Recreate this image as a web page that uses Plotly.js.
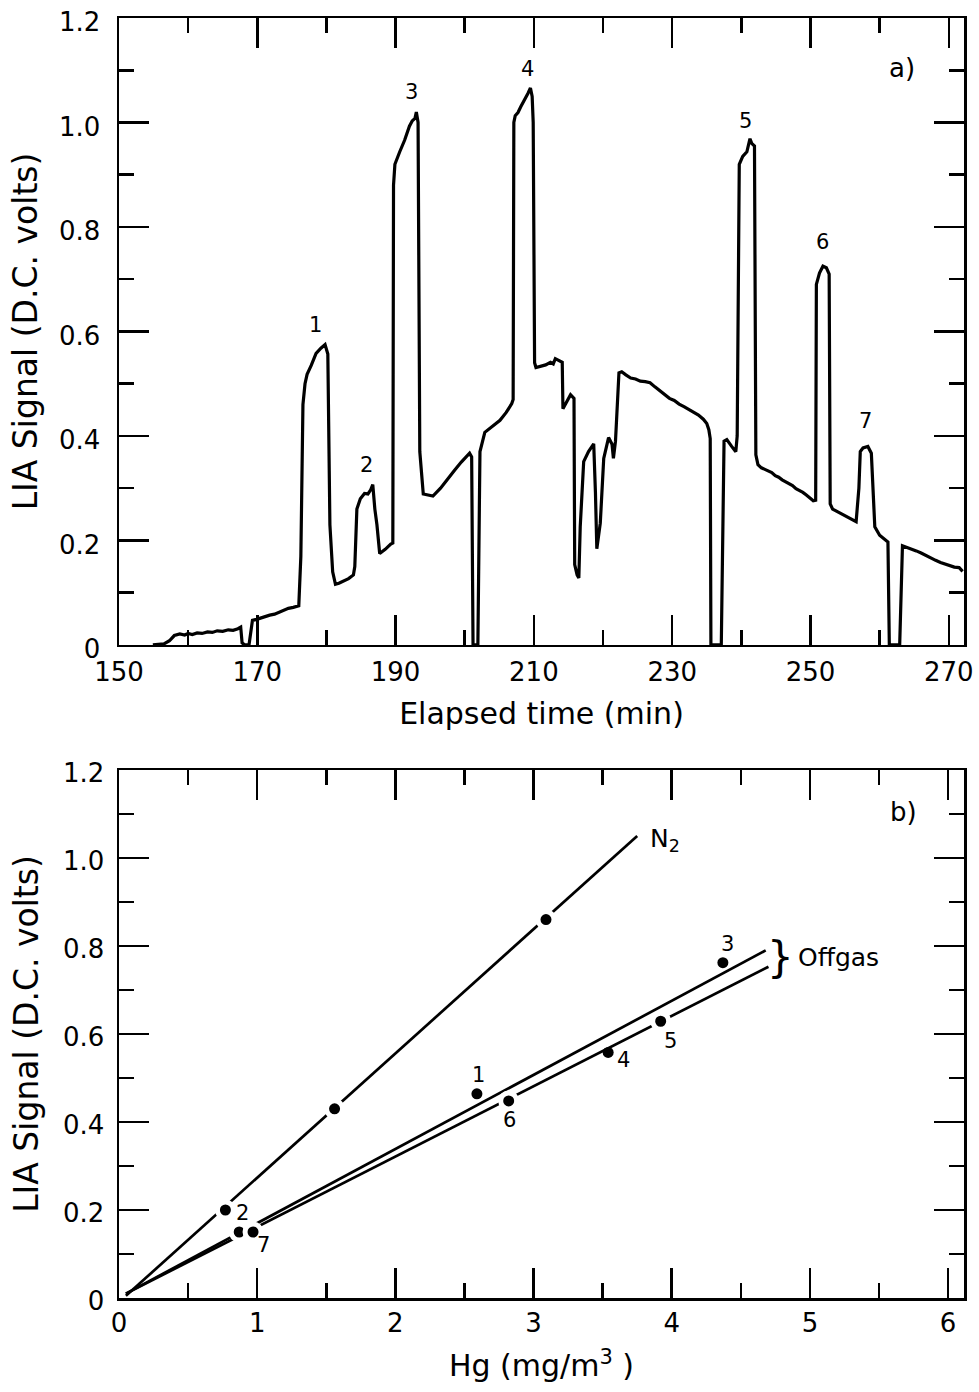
<!DOCTYPE html>
<html>
<head>
<meta charset="utf-8">
<script src="https://cdn.plot.ly/plotly-3.0.1.min.js"></script>
<style>html,body{margin:0;padding:0;background:#fff;}#chart{width:979px;height:1392px;}</style>
</head>
<body>
<div id="chart"></div>
<script>
// ---------- Panel a: LIA signal vs elapsed time ----------
const timeMin = [
  154.9,156.5,157.3,158.0,158.8,159.5,160.0,160.6,161.3,162.0,162.8,163.5,164.2,165.0,165.8,166.5,167.2,167.6,167.8,168.2,168.8,
  169.1,169.3,169.9,170.5,171.2,171.8,172.5,173.2,173.8,174.5,175.2,176.0,
  176.3,176.6,176.9,177.2,177.8,178.5,179.2,179.8,180.2,180.5,180.9,181.3,181.8,182.5,183.2,183.9,
  184.1,184.4,184.9,185.5,186.0,186.4,186.7,187.0,187.3,187.7,188.5,189.3,189.6,
  189.7,189.9,190.6,191.3,192.0,192.4,192.8,193.0,193.25,193.5,194.0,195.4,196.5,197.5,198.5,199.5,200.7,201.0,
  201.2,201.9,202.2,202.9,204.0,205.1,206.0,206.8,207.0,
  207.1,207.3,207.7,208.1,208.4,208.8,209.15,209.5,209.75,209.9,210.1,210.3,211.0,211.7,212.4,212.8,213.1,213.6,214.1,
  214.2,214.8,215.3,215.8,215.9,216.25,216.5,216.7,217.2,217.9,218.65,218.9,219.1,219.6,220.1,220.8,221.3,221.5,221.8,
  222.3,222.7,223.3,224.0,224.7,225.4,226.1,226.8,227.5,228.2,228.9,229.6,230.3,231.0,231.7,232.4,233.1,233.8,234.5,235.0,235.3,235.5,
  235.6,237.1,237.5,237.9,238.6,239.2,239.4,
  239.7,240.2,240.8,241.25,241.5,241.9,242.0,242.1,242.4,242.9,243.4,243.9,244.4,244.9,245.4,245.9,246.4,246.9,247.4,247.9,248.4,248.9,249.4,249.9,250.4,250.75,
  250.85,251.3,251.8,252.3,252.7,252.85,253.2,253.75,254.5,255.2,255.9,256.6,
  257.0,257.2,257.6,258.3,258.8,259.1,259.3,260.0,260.6,261.2,
  261.4,262.9,263.3,264.0,264.7,265.3,266.0,266.7,267.4,268.1,268.8,269.5,270.1,270.8,271.5,272.0
];
const liaSignal = [
  0.000,0.002,0.008,0.018,0.021,0.019,0.022,0.020,0.023,0.022,0.025,0.024,0.027,0.026,0.029,0.028,0.031,0.034,0.004,0.000,0.000,
  0.035,0.047,0.049,0.052,0.054,0.057,0.059,0.063,0.066,0.070,0.072,0.075,
  0.170,0.460,0.500,0.518,0.535,0.558,0.568,0.575,0.557,0.230,0.140,0.116,0.118,0.122,0.127,0.134,
  0.150,0.260,0.280,0.290,0.289,0.297,0.307,0.260,0.230,0.175,0.183,0.193,0.195,
  0.880,0.920,0.944,0.966,0.993,1.003,1.008,1.020,1.000,0.370,0.289,0.285,0.300,0.318,0.334,0.350,0.367,0.360,
  0.000,0.000,0.370,0.407,0.418,0.430,0.445,0.462,0.470,
  1.000,1.013,1.019,1.030,1.037,1.045,1.056,1.066,1.050,1.000,0.540,0.531,0.534,0.536,0.541,0.538,0.548,0.545,0.541,
  0.452,0.466,0.479,0.472,0.154,0.134,0.128,0.226,0.351,0.370,0.385,0.292,0.184,0.233,0.357,0.397,0.384,0.357,0.390,
  0.521,0.523,0.517,0.511,0.509,0.505,0.504,0.502,0.494,0.486,0.479,0.472,0.468,0.461,0.456,0.451,0.446,0.440,0.432,0.424,0.412,0.395,
  0.000,0.000,0.390,0.393,0.380,0.370,0.400,
  0.920,0.935,0.944,0.969,0.960,0.955,0.450,0.364,0.345,0.339,0.336,0.333,0.330,0.324,0.321,0.316,0.312,0.308,0.305,0.299,0.296,0.292,0.287,0.282,0.276,0.277,
  0.690,0.712,0.725,0.722,0.710,0.270,0.260,0.256,0.251,0.246,0.241,0.236,
  0.300,0.370,0.377,0.380,0.367,0.280,0.226,0.210,0.203,0.197,
  0.000,0.000,0.190,0.187,0.183,0.180,0.176,0.171,0.166,0.162,0.158,0.155,0.151,0.149,0.148,0.141
];
const peakNames = ['1','2','3','4','5','6','7'];
const peakTime  = [179.8,186.7,193.0,209.5,241.25,251.8,258.3];
const peakValue = [0.575,0.307,1.020,1.066,0.969,0.725,0.380];
const timeTickVals = [150,170,190,210,230,250,270];
const timeTickText = ['150','170','190','210','230','250','270'];
const timeMinorVals = [160,180,200,220,240,260];

// ---------- Panel b: LIA signal vs Hg concentration ----------
const n2Hg      = [0.77,1.56,3.09];
const n2Signal  = [0.20,0.43,0.86];
const n2LineHg     = [0.05,3.75];
const n2LineSignal = [0.005,1.05];
const sampleNames  = ['1','2','3','4','5','6','7'];
const sampleHg     = [2.59,0.87,4.37,3.54,3.92,2.82,0.97];
const sampleSignal = [0.464,0.150,0.762,0.558,0.629,0.448,0.150];
const offgasUpperHg     = [0.05,4.68];
const offgasUpperSignal = [0.010,0.790];
const offgasLowerHg     = [0.05,4.70];
const offgasLowerSignal = [0.010,0.753];
const hgTickVals = [0,1,2,3,4,5,6];
const hgTickText = ['0','1','2','3','4','5','6'];
const hgMinorVals = [0.5,1.5,2.5,3.5,4.5,5.5];
const sigTickVals = [0,0.2,0.4,0.6,0.8,1.0,1.2];
const sigTickText = ['0','0.2','0.4','0.6','0.8','1.0','1.2'];
const sigMinorVals = [0.1,0.3,0.5,0.7,0.9,1.1];

// ---------- styling ----------
const FONT = 'DejaVu Sans, Liberation Sans, sans-serif';
const INK = '#000';
function axisStyle(extra){
  return Object.assign({
    showline:true, linecolor:INK, linewidth:2.5, mirror:'ticks',
    ticks:'inside', ticklen:30, tickwidth:2.5, tickcolor:INK,
    showgrid:false, zeroline:false, fixedrange:true,
    tickfont:{family:FONT, size:26, color:INK}
  }, extra);
}
const minorStyle = (vals)=>({tickvals:vals, ticks:'inside', ticklen:15, tickwidth:2.5, tickcolor:INK, showgrid:false});

const traces = [
  {x:timeMin, y:liaSignal, xaxis:'x', yaxis:'y', type:'scatter', mode:'lines',
   line:{color:INK, width:3.2}, hoverinfo:'skip'},
  {x:n2LineHg, y:n2LineSignal, xaxis:'x2', yaxis:'y2', type:'scatter', mode:'lines',
   line:{color:INK, width:2.7}},
  {x:offgasUpperHg, y:offgasUpperSignal, xaxis:'x2', yaxis:'y2', type:'scatter', mode:'lines',
   line:{color:INK, width:2.7}},
  {x:offgasLowerHg, y:offgasLowerSignal, xaxis:'x2', yaxis:'y2', type:'scatter', mode:'lines',
   line:{color:INK, width:2.7}},
  {x:n2Hg, y:n2Signal, xaxis:'x2', yaxis:'y2', type:'scatter', mode:'markers',
   marker:{size:16, color:INK, opacity:1, line:{color:'#fff', width:5}}},
  {x:sampleHg, y:sampleSignal, xaxis:'x2', yaxis:'y2', type:'scatter', mode:'markers',
   marker:{size:[11,16,11,11,16,16,16], color:INK, opacity:1, line:{color:'#fff', width:[0,5,0,0,5,5,5]}}}
];

// label offsets (pixels) for peak and sample numbers
const peakShift   = [[-10,20],[-6,20],[-5,20],[-3,19],[-4,18],[0,24],[-2,25]];
const sampleShift = [[2,19],[3,19],[5,19],[15,-8],[10,-20],[1,-19],[10,-13]];

const annotations = [];
peakNames.forEach((n,i)=>annotations.push({
  xref:'x', yref:'y', x:peakTime[i], y:peakValue[i], text:n, showarrow:false,
  xshift:peakShift[i][0], yshift:peakShift[i][1], font:{family:FONT, size:21, color:INK}
}));
sampleNames.forEach((n,i)=>annotations.push({
  xref:'x2', yref:'y2', x:sampleHg[i], y:sampleSignal[i], text:n, showarrow:false,
  xshift:sampleShift[i][0], yshift:sampleShift[i][1], font:{family:FONT, size:21, color:INK}
}));
annotations.push(
  {xref:'x', yref:'y', x:263.3, y:1.105, text:'a)', showarrow:false, font:{family:FONT, size:26, color:INK}},
  {xref:'x2', yref:'y2', x:5.68, y:1.105, text:'b)', showarrow:false, font:{family:FONT, size:26, color:INK}},
  {xref:'x2', yref:'y2', x:3.83, y:1.04, text:'N<sub>2</sub>', showarrow:false, xanchor:'left', font:{family:FONT, size:25, color:INK}},
  {xref:'x2', yref:'y2', x:4.79, y:0.775, text:'}', showarrow:false, font:{family:FONT, size:42, color:INK}},
  {xref:'x2', yref:'y2', x:4.90, y:0.775, text:'Offgas', showarrow:false, xanchor:'left', font:{family:FONT, size:25, color:INK}}
);

const layout = {
  width:979, height:1392,
  margin:{l:119, r:15, t:18, b:94},
  paper_bgcolor:'#fff', plot_bgcolor:'#fff',
  showlegend:false,
  font:{family:FONT, size:26, color:INK},
  xaxis: axisStyle({domain:[0,1], anchor:'y', range:[150,272.2], ticklabelstandoff:2,
    tickmode:'array', tickvals:timeTickVals, ticktext:timeTickText,
    minor:minorStyle(timeMinorVals),
    title:{text:'Elapsed time (min)', font:{family:FONT, size:30, color:INK}, standoff:18}}),
  yaxis: axisStyle({domain:[0.5102,1], anchor:'x', range:[0,1.2], ticklabelstandoff:11, ticklabelshift:4,
    tickmode:'array', tickvals:sigTickVals, ticktext:sigTickText,
    minor:minorStyle(sigMinorVals),
    title:{text:'LIA Signal (D.C. volts)', font:{family:FONT, size:33, color:INK}, standoff:12}}),
  xaxis2: axisStyle({domain:[0,1], anchor:'y2', range:[0,6.115], ticklabelstandoff:0,
    tickmode:'array', tickvals:hgTickVals, ticktext:hgTickText,
    minor:minorStyle(hgMinorVals),
    title:{text:'Hg (mg/m<sup>3</sup> )', font:{family:FONT, size:30, color:INK}, standoff:19}}),
  yaxis2: axisStyle({domain:[0,0.4125], anchor:'x2', range:[0,1.2], ticklabelstandoff:7, ticklabelshift:3,
    tickmode:'array', tickvals:sigTickVals, ticktext:sigTickText,
    minor:minorStyle(sigMinorVals),
    title:{text:'LIA Signal (D.C. volts)', font:{family:FONT, size:33, color:INK}, standoff:15}}),
  annotations: annotations
};

Plotly.newPlot('chart', traces, layout, {staticPlot:true, displayModeBar:false});
</script>
</body>
</html>
